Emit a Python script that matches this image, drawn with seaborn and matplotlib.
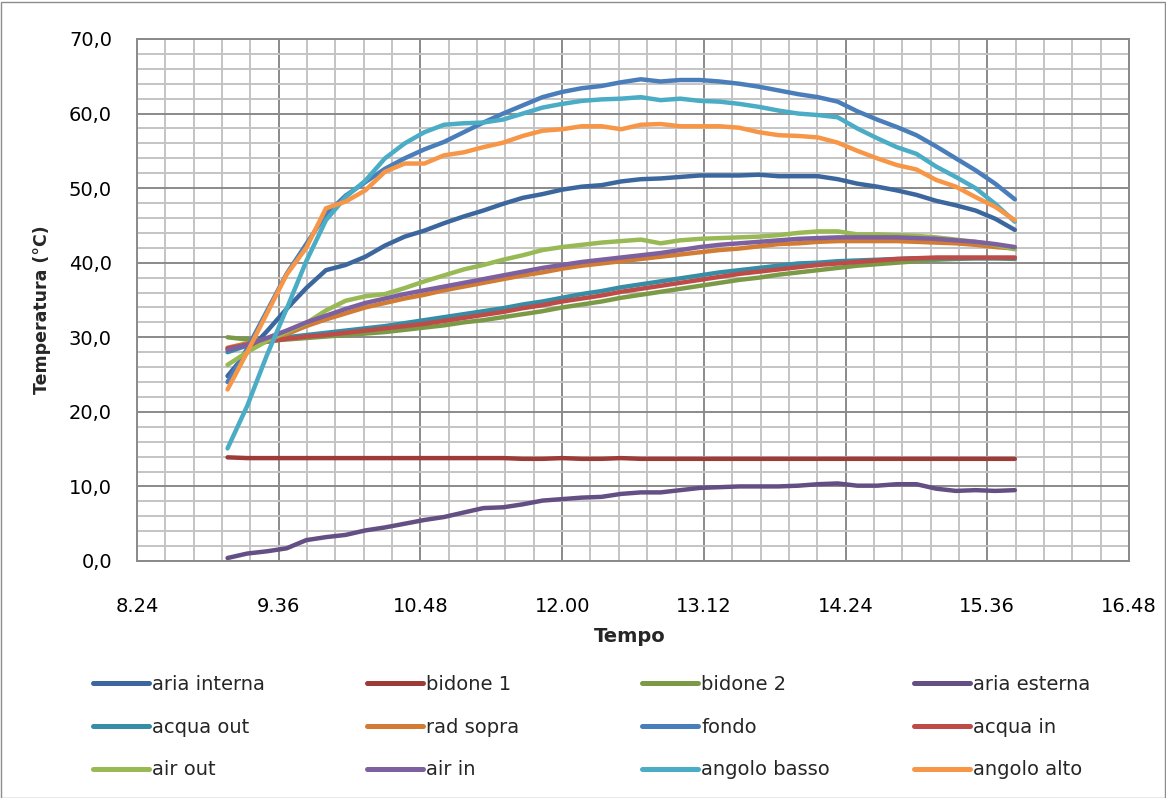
import matplotlib
matplotlib.use("Agg")
import matplotlib.pyplot as plt
from matplotlib.lines import Line2D
from matplotlib.patches import Rectangle
from matplotlib.ticker import FixedLocator, FuncFormatter
import numpy as np
import pandas as pd
import seaborn as sns

times = ["9:10", "9:20", "9:30", "9:40", "9:50", "10:00", "10:10", "10:20", "10:30", "10:40",
         "10:50", "11:00", "11:10", "11:20", "11:30", "11:40", "11:50", "12:00", "12:10", "12:20",
         "12:30", "12:40", "12:50", "13:00", "13:10", "13:20", "13:30", "13:40", "13:50", "14:00",
         "14:10", "14:20", "14:30", "14:40", "14:50", "15:00", "15:10", "15:20", "15:30", "15:40",
         "15:50"]

aria_interna = [24.8, 28.0, 30.8, 33.8, 36.6, 39.0, 39.7, 40.8, 42.3, 43.5,
                44.3, 45.3, 46.2, 47.0, 47.9, 48.7, 49.2, 49.8, 50.2, 50.4,
                50.9, 51.2, 51.3, 51.5, 51.7, 51.7, 51.7, 51.8, 51.6, 51.6,
                51.6, 51.2, 50.6, 50.2, 49.7, 49.1, 48.3, 47.7, 47.0, 45.9, 44.4]
bidone_1 = [13.9, 13.8, 13.8, 13.8, 13.8, 13.8, 13.8, 13.8, 13.8, 13.8,
            13.8, 13.8, 13.8, 13.8, 13.8, 13.7, 13.7, 13.8, 13.7, 13.7,
            13.8, 13.7, 13.7, 13.7, 13.7, 13.7, 13.7, 13.7, 13.7, 13.7,
            13.7, 13.7, 13.7, 13.7, 13.7, 13.7, 13.7, 13.7, 13.7, 13.7, 13.7]
bidone_2 = [30.0, 29.7, 29.5, 29.7, 29.9, 30.1, 30.3, 30.5, 30.7, 31.0,
            31.3, 31.6, 32.0, 32.3, 32.7, 33.1, 33.5, 34.0, 34.4, 34.8,
            35.3, 35.7, 36.1, 36.5, 36.9, 37.3, 37.7, 38.0, 38.4, 38.7,
            39.0, 39.3, 39.6, 39.8, 40.0, 40.2, 40.4, 40.5, 40.6, 40.6, 40.5]
aria_esterna = [0.4, 1.0, 1.3, 1.7, 2.8, 3.2, 3.5, 4.1, 4.5, 5.0,
                5.5, 5.9, 6.5, 7.1, 7.2, 7.6, 8.1, 8.3, 8.5, 8.6,
                9.0, 9.2, 9.2, 9.5, 9.8, 9.9, 10.0, 10.0, 10.0, 10.1,
                10.3, 10.4, 10.1, 10.1, 10.3, 10.3, 9.7, 9.4, 9.5, 9.4, 9.5]
acqua_out = [28.0, 28.9, 29.6, 30.0, 30.3, 30.6, 30.9, 31.2, 31.5, 31.9,
             32.3, 32.7, 33.1, 33.5, 33.9, 34.4, 34.8, 35.3, 35.8, 36.2,
             36.7, 37.1, 37.5, 37.9, 38.3, 38.7, 39.0, 39.3, 39.6, 39.9,
             40.0, 40.2, 40.3, 40.4, 40.5, 40.6, 40.6, 40.6, 40.6, 40.6, 40.6]
rad_sopra = [28.6, 29.2, 29.6, 30.4, 31.5, 32.4, 33.2, 34.0, 34.6, 35.2,
             35.7, 36.3, 36.8, 37.3, 37.8, 38.3, 38.7, 39.2, 39.6, 39.9,
             40.2, 40.5, 40.8, 41.1, 41.4, 41.7, 41.9, 42.2, 42.5, 42.6,
             42.8, 42.9, 42.9, 42.9, 42.9, 42.8, 42.7, 42.6, 42.4, 42.1, 41.9]
fondo = [24.0, 28.5, 33.5, 38.5, 42.5, 46.5, 49.0, 50.8, 52.6, 54.0,
         55.2, 56.2, 57.5, 58.8, 60.0, 61.1, 62.2, 62.9, 63.4, 63.7,
         64.2, 64.6, 64.3, 64.5, 64.5, 64.3, 64.0, 63.6, 63.1, 62.6,
         62.2, 61.6, 60.3, 59.2, 58.2, 57.1, 55.6, 54.0, 52.4, 50.6, 48.5]
acqua_in = [28.5, 29.0, 29.4, 29.8, 30.1, 30.3, 30.6, 30.9, 31.2, 31.5,
            31.8, 32.2, 32.6, 33.0, 33.4, 33.9, 34.3, 34.8, 35.2, 35.6,
            36.1, 36.5, 36.9, 37.3, 37.7, 38.1, 38.5, 38.8, 39.1, 39.4,
            39.7, 39.9, 40.1, 40.3, 40.5, 40.6, 40.7, 40.7, 40.7, 40.7, 40.7]
air_out = [26.3, 28.0, 29.5, 30.7, 31.9, 33.6, 34.9, 35.5, 35.8, 36.6,
           37.5, 38.3, 39.1, 39.7, 40.4, 41.0, 41.7, 42.1, 42.4, 42.7,
           42.9, 43.1, 42.6, 43.0, 43.2, 43.3, 43.4, 43.5, 43.7, 44.0,
           44.2, 44.2, 43.8, 43.8, 43.7, 43.6, 43.4, 43.1, 42.8, 42.4, 41.8]
air_in = [28.3, 29.0, 29.9, 30.9, 32.0, 32.9, 33.8, 34.6, 35.2, 35.8,
          36.3, 36.8, 37.3, 37.8, 38.3, 38.8, 39.3, 39.7, 40.1, 40.4,
          40.7, 41.0, 41.3, 41.7, 42.1, 42.4, 42.6, 42.8, 43.0, 43.2,
          43.3, 43.4, 43.4, 43.4, 43.4, 43.3, 43.2, 43.0, 42.8, 42.5, 42.1]
angolo_basso = [15.1, 20.8, 27.6, 33.8, 40.2, 45.7, 48.8, 51.0, 54.0, 56.0,
                57.5, 58.5, 58.7, 58.8, 59.2, 60.0, 60.8, 61.3, 61.7, 61.9,
                62.0, 62.2, 61.8, 62.0, 61.7, 61.6, 61.3, 60.9, 60.4, 60.0,
                59.8, 59.5, 58.0, 56.7, 55.5, 54.6, 52.9, 51.5, 50.0, 47.9, 45.5]
angolo_alto = [23.0, 28.0, 33.2, 38.4, 42.0, 47.3, 48.2, 49.7, 52.2, 53.3,
               53.3, 54.4, 54.8, 55.5, 56.1, 57.0, 57.7, 57.9, 58.3, 58.3,
               57.9, 58.5, 58.6, 58.3, 58.3, 58.3, 58.1, 57.5, 57.1, 57.0,
               56.8, 56.1, 55.0, 54.0, 53.1, 52.5, 51.1, 50.2, 48.8, 47.5, 45.7]

series_names = ["aria interna", "bidone 1", "bidone 2", "aria esterna",
                "acqua out", "rad sopra", "fondo", "acqua in",
                "air out", "air in", "angolo basso", "angolo alto"]
series_values = [aria_interna, bidone_1, bidone_2, aria_esterna,
                 acqua_out, rad_sopra, fondo, acqua_in,
                 air_out, air_in, angolo_basso, angolo_alto]
series_colors = ["#3B679E", "#9C3B38", "#7B9A46", "#644F85",
                 "#368DA6", "#D27B33", "#4A7EBB", "#BE4B48",
                 "#98B954", "#7D60A0", "#4BACC6", "#F79646"]

hours = [int(t.split(":")[0]) + int(t.split(":")[1]) / 60 for t in times]
rows = []
for name, vals in zip(series_names, series_values):
    for h, v in zip(hours, vals):
        rows.append({"tempo": h, "temp": v, "serie": name})
df = pd.DataFrame(rows)
palette = dict(zip(series_names, series_colors))

sns.set_style("white")
plt.rcParams["font.family"] = ["DejaVu Sans"]

W, H = 1166, 798
fig = plt.figure(figsize=(W / 100, H / 100), dpi=100)
L, R, T, B = 137, 1129, 39, 561
ax = fig.add_axes([L / W, 1 - B / H, (R - L) / W, (B - T) / H])

sns.lineplot(data=df, x="tempo", y="temp", hue="serie", hue_order=series_names,
             palette=palette, sort=False, estimator=None, linewidth=3.2,
             legend=False, ax=ax)
for ln in ax.lines:
    ln.set_solid_capstyle("round")
    ln.set_solid_joinstyle("round")

ax.set_xlim(8.4, 16.8)
ax.set_ylim(0, 70)
ax.xaxis.set_major_locator(FixedLocator(np.arange(8.4, 16.81, 1.2)))
ax.xaxis.set_minor_locator(FixedLocator(np.arange(8.4, 16.81, 0.24)))
ax.yaxis.set_major_locator(FixedLocator(np.arange(0, 70.1, 10)))
ax.yaxis.set_minor_locator(FixedLocator(np.arange(0, 70.1, 2)))


def fmt_time(x, pos):
    tot = int(round(x * 60))
    return f"{tot // 60}.{tot % 60:02d}"


ax.xaxis.set_major_formatter(FuncFormatter(fmt_time))
ax.yaxis.set_major_formatter(FuncFormatter(lambda v, p: f"{v:.1f}".replace(".", ",")))

ax.set_axisbelow(True)
ax.grid(which="minor", color="#C4C4C4", linewidth=1.4)
ax.grid(which="major", color="#8A8A8A", linewidth=1.4)
for s in ax.spines.values():
    s.set_color("#8A8A8A")
    s.set_linewidth(1.4)

ax.tick_params(axis="x", which="major", direction="out", length=6, width=1.2,
               color="#8A8A8A", labelsize=14, pad=20, labelcolor="black")
ax.tick_params(axis="x", which="minor", direction="out", length=3, width=1.0,
               color="#8A8A8A")
ax.tick_params(axis="y", which="major", direction="out", length=6, width=1.2,
               color="#8A8A8A", labelsize=14, pad=12, labelcolor="black")
ax.tick_params(axis="y", which="minor", length=0)
ax.set_xlabel("")
ax.set_ylabel("")

fig.text(630 / W, 1 - 636 / H, "Tempo", ha="center", va="center",
         fontsize=14, fontweight="bold")
fig.text(42 / W, 1 - 310 / H, "Temperatura (°C)", ha="center", va="center",
         rotation=90, fontsize=12.5, fontweight="bold")

handles = [Line2D([0], [0], color=c, linewidth=3.6, solid_capstyle="round")
           for c in series_colors]
col_x = [93, 367, 642, 914]
for ci in range(4):
    idx = [ci, ci + 4, ci + 8]
    leg = fig.legend([handles[i] for i in idx], [series_names[i] for i in idx],
                     loc="upper left", bbox_to_anchor=(col_x[ci] / W, 1 - 675 / H),
                     frameon=False, borderpad=0, borderaxespad=0, fontsize=14,
                     handlelength=2.9, handletextpad=0.15, labelspacing=1.22)

fig.patches.append(Rectangle((0.5 / W, 0.5 / H), 1 - 2 / W, 1 - 2 / H,
                             transform=fig.transFigure, fill=False,
                             edgecolor="#8C8C8C", linewidth=1.0))

fig.savefig("out.png", dpi=100)
